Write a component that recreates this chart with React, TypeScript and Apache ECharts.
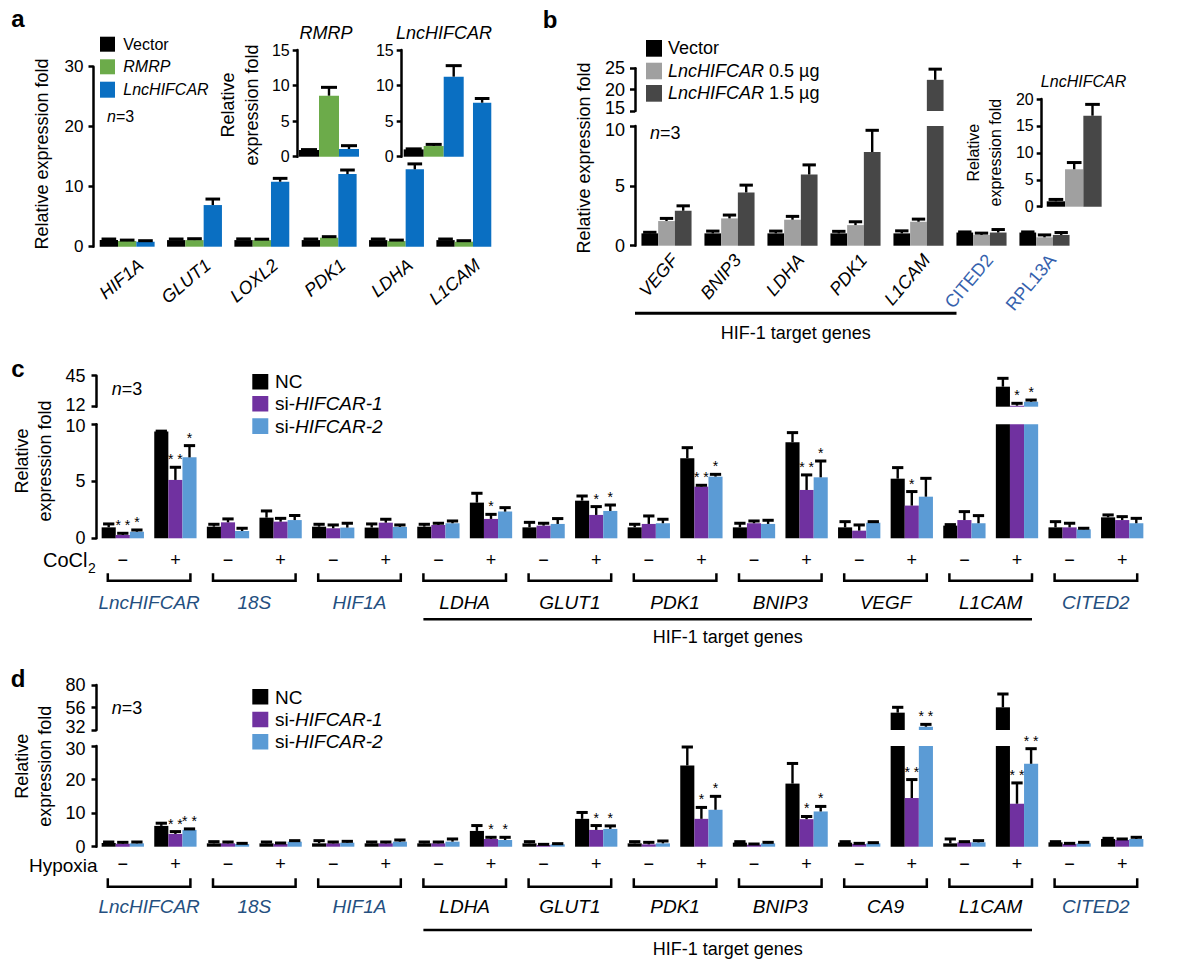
import React, { useEffect, useRef } from 'react';
import * as echarts from 'echarts';

const FF = '"Liberation Sans", Arial, Helvetica, sans-serif';

// ---------------- Panel a ----------------
const aGenes = ['HIF1A', 'GLUT1', 'LOXL2', 'PDK1', 'LDHA', 'L1CAM'];
const aVector = [1.1, 1.1, 1.1, 1.1, 1.1, 1.1];
const aVectorErr = [1.28, 1.28, 1.3, 1.28, 1.28, 1.28];
const aRmrp = [0.94, 1.1, 1.1, 1.5, 0.94, 0.83];
const aRmrpErr = [1.1, 1.33, 1.25, 1.67, 1.1, 1.0];
const aLnc = [0.83, 6.94, 10.83, 12.1, 12.9, 24.0];
const aLncErr = [1.0, 7.94, 11.39, 12.78, 13.8, 24.7];
const aInsetRmrp = [0.94, 8.58, 1.08];
const aInsetRmrpErr = [1.0, 9.75, 1.55];
const aInsetLnc = [1.03, 1.5, 11.25];
const aInsetLncErr = [1.1, 1.73, 12.8];

// ---------------- Panel b ----------------
const bGenes = ['VEGF', 'BNIP3', 'LDHA', 'PDK1', 'L1CAM', 'CITED2', 'RPL13A'];
const bControlGenes = ['CITED2', 'RPL13A'];
const bVector = [1.03, 1.03, 1.03, 1.03, 1.03, 1.1, 1.1];
const bVectorErr = [1.12, 1.22, 1.22, 1.2, 1.24, 1.15, 1.15];
const bLow = [2.06, 2.28, 2.17, 1.72, 2.0, 0.9, 0.7];
const bLowErr = [2.28, 2.56, 2.45, 2.0, 2.22, 1.05, 0.9];
const bHigh = [2.92, 4.45, 5.95, 7.83, 22.3, 1.1, 0.9];
const bHighErr = [3.33, 5.06, 6.75, 9.64, 24.8, 1.35, 1.1];
const bInset = [1.0, 6.95, 16.9];
const bInsetErr = [1.35, 8.2, 19.0];
const bLowerMax = 10;
const bUpperTicks = [15, 20, 25];

// ---------------- Panel c (CoCl2) ----------------
const cGenes = ['LncHIFCAR', '18S', 'HIF1A', 'LDHA', 'GLUT1', 'PDK1', 'BNIP3', 'VEGF', 'L1CAM', 'CITED2'];
const cControlGenes = ['LncHIFCAR', '18S', 'HIF1A', 'CITED2'];
// order per gene: [-, +]
const cNC = [0.96, 9.36, 1.02, 1.81, 1.02, 0.94, 1.02, 3.13, 0.96, 3.3, 0.96, 7.02, 0.96, 8.42, 0.96, 5.23, 1.11, 33.3, 0.96, 1.84];
const cNCErr = [1.26, 9.4, 1.23, 2.4, 1.23, 1.26, 1.23, 3.95, 1.4, 3.71, 1.23, 7.95, 1.32, 9.27, 1.46, 6.2, 1.2, 42.2, 1.46, 2.05];
const cSi1 = [0.29, 5.12, 1.4, 1.46, 0.88, 1.37, 1.17, 1.7, 1.11, 2.05, 1.26, 4.53, 1.32, 4.24, 0.67, 2.87, 1.6, 13.1, 0.96, 1.6];
const cSi1Err = [0.44, 6.23, 1.7, 1.75, 1.17, 1.67, 1.32, 2.1, 1.32, 2.78, 1.96, 4.65, 1.52, 5.56, 1.17, 4.1, 2.34, 15.6, 1.32, 1.9];
const cSi2 = [0.58, 7.1, 0.64, 1.6, 0.94, 1.0, 1.32, 2.34, 1.26, 2.4, 1.32, 5.41, 1.26, 5.35, 1.37, 3.65, 1.32, 17.3, 0.79, 1.32];
const cSi2Err = [0.73, 8.13, 0.88, 2.0, 1.32, 1.17, 1.52, 2.69, 1.73, 2.92, 1.67, 5.61, 1.58, 6.78, 1.46, 5.26, 1.99, 19.1, 0.88, 1.75];
const cSig1 = ['**', '**', '', '', '', '', '', '*', '', '*', '', '**', '', '**', '', '*', '', '*', '', ''];
const cSig2 = ['*', '*', '', '', '', '', '', '', '', '*', '', '*', '', '*', '', '', '', '*', '', ''];
const cLowerMax = 10;
const cUpperTicks = [12, 45];

// ---------------- Panel d (Hypoxia) ----------------
const dGenes = ['LncHIFCAR', '18S', 'HIF1A', 'LDHA', 'GLUT1', 'PDK1', 'BNIP3', 'CA9', 'L1CAM', 'CITED2'];
const dControlGenes = ['LncHIFCAR', '18S', 'HIF1A', 'CITED2'];
const dNC = [1.1, 6.2, 1.0, 1.0, 1.0, 1.0, 1.0, 4.7, 1.0, 8.3, 1.0, 24.2, 1.2, 18.8, 1.2, 50.5, 1.0, 56.2, 1.3, 2.3];
const dNCErr = [1.4, 7.0, 1.5, 1.4, 1.8, 1.4, 1.4, 6.3, 1.5, 10.2, 1.5, 29.7, 1.5, 24.8, 1.5, 56.2, 2.3, 70.4, 1.5, 2.5];
const dSi1 = [0.9, 3.8, 1.0, 0.8, 1.0, 1.0, 1.0, 2.3, 0.5, 5.0, 0.7, 8.3, 0.6, 8.2, 0.8, 14.5, 1.3, 12.8, 0.8, 2.0];
const dSi1Err = [1.3, 4.5, 1.4, 1.1, 1.4, 1.4, 1.4, 2.8, 0.7, 6.3, 1.3, 11.7, 0.8, 9.0, 1.0, 20.0, 1.5, 19.0, 1.0, 2.3];
const dSi2 = [1.0, 5.0, 0.8, 1.5, 1.2, 1.5, 1.5, 2.0, 0.7, 5.3, 1.0, 11.0, 1.0, 10.5, 1.0, 35.5, 1.3, 24.7, 1.0, 2.3];
const dSi2Err = [1.4, 5.3, 1.0, 1.8, 1.6, 2.0, 2.3, 2.8, 0.9, 6.2, 1.7, 15.0, 1.3, 12.0, 1.2, 38.0, 1.8, 29.2, 1.3, 2.8];
const dSig1 = ['', '**', '', '', '', '', '', '*', '', '*', '', '*', '', '*', '', '**', '', '**', '', ''];
const dSig2 = ['', '**', '', '', '', '', '', '*', '', '*', '', '*', '', '*', '', '**', '', '**', '', ''];
const dLowerMax = 30;
const dUpperTicks = [32, 56, 80];

const signs = ['\u2212', '+'];

// ---------------- colours ----------------
const BLACK = '#000000';
const GREEN = '#6cab4a';
const BLUE = '#0a6fc2';
const LGRAY = '#a0a0a0';
const DGRAY = '#474747';
const PURPLE = '#7031a0';
const SKY = '#5b9bd5';
const GENE_CD = '#244f80';
const GENE_B = '#3561ad';

const keys = (genes: string[]) => genes.flatMap((g) => signs.map((s) => g + '|' + s));

function barS(xi: number, yi: number, data: any[], color: string, bw: number) {
  return {
    type: 'bar', xAxisIndex: xi, yAxisIndex: yi, data, barWidth: bw, barGap: '0%',
    itemStyle: { color }, clip: true, silent: true, z: 2,
  };
}

function errS(xi: number, yi: number, vals: number[], errs: number[], sigs: string[] | null,
  k: number, bw: number, lo: number, hi: number) {
  return {
    type: 'custom', xAxisIndex: xi, yAxisIndex: yi, z: 5, silent: true,
    data: vals.map((v, i) => [i, v, errs[i]]),
    encode: { x: 0, y: 1 },
    renderItem: (params: any, api: any) => {
      const i = api.value(0), v = api.value(1), e = api.value(2);
      if (!(v > lo && v <= hi)) return null;
      const p0 = api.coord([i, v]);
      const p1 = api.coord([i, e]);
      const x = p0[0] + (k - 1) * bw;
      const half = bw * 0.4;
      const ch: any[] = [];
      if (e > v + 1e-9) {
        ch.push({ type: 'line', shape: { x1: x, y1: p0[1], x2: x, y2: p1[1] }, style: { stroke: '#000', lineWidth: 2.4 } });
        ch.push({ type: 'line', shape: { x1: x - half, y1: p1[1], x2: x + half, y2: p1[1] }, style: { stroke: '#000', lineWidth: 3 } });
      }
      const s = sigs ? sigs[params.dataIndex] : '';
      if (s) {
        ch.push({ type: 'text', x, y: p1[1] - 1, style: { text: s.split('').join(' '), align: 'center', verticalAlign: 'bottom', fontSize: 14, fontFamily: FF, fill: '#000' } });
      }
      return { type: 'group', children: ch };
    },
  };
}

// tick label formatter that nudges one label (at a broken-axis gap) up or down a little
function nudged(size: number, target: number, dir: 'up' | 'down', gap: number) {
  return {
    formatter: (v: number) => {
      if (v !== target) return '{v|' + v + '}';
      return dir === 'up' ? '{v|' + v + '}\n{g| }' : '{g| }\n{v|' + v + '}';
    },
    rich: {
      v: { fontSize: size, fontFamily: FF, color: '#000', lineHeight: 16 },
      g: { fontSize: 4, lineHeight: gap },
    },
  };
}

function yAx(grid: number, min: number, max: number, size: number, margin: number, extra: any = {}) {
  return {
    type: 'value', gridIndex: grid, min, max,
    axisLine: { show: true, lineStyle: { color: '#000', width: 2.5 } },
    axisTick: { show: true, length: 5, lineStyle: { color: '#000', width: 2.5 }, ...(extra.tick || {}) },
    axisLabel: { color: '#000', fontSize: size, fontFamily: FF, margin, ...(extra.label || {}) },
    splitLine: { show: false },
    ...(extra.axis || {}),
  };
}

const hiddenX = (grid: number, data: any[]) => ({ type: 'category', gridIndex: grid, data, show: false });
const hiddenY = (grid: number) => ({ type: 'value', gridIndex: grid, min: 0, max: 1, show: false });

function buildOption() {
  const grids = [
    { left: 93.5, top: 66.7, width: 404, height: 180 },
    { left: 297.7, top: 50, width: 62.6, height: 106.7 },
    { left: 401.7, top: 50, width: 64, height: 106.7 },
    { left: 635, top: 126, width: 441, height: 119.7 },
    { left: 635, top: 68.3, width: 441, height: 42.7 },
    { left: 1041.7, top: 99, width: 65, height: 107.7 },
    { left: 96.5, top: 424.3, width: 1052, height: 114 },
    { left: 96.5, top: 375.7, width: 1052, height: 31 },
    { left: 96.5, top: 746, width: 1052, height: 100.7 },
    { left: 96.5, top: 685, width: 1052, height: 45 },
    // label-only grids (slightly shifted so the slanted names sit like the original)
    { left: 101.5, top: 66.7, width: 404, height: 180 },
    { left: 643, top: 126, width: 441, height: 119.7 },
  ].map((g) => ({ ...g, containLabel: false, outerBoundsMode: 'none', show: false }));

  const cKeys = keys(cGenes);
  const dKeys = keys(dGenes);
  const signLabel = (m: number) => ({
    show: true, interval: 0, fontSize: 18, fontFamily: FF, color: '#000', margin: m,
    formatter: (v: string) => v.split('|')[1],
  });
  const geneAxis = (grid: number, genes: string[], ctrl: string[], off: number) => ({
    type: 'category', gridIndex: grid, position: 'bottom', offset: off,
    data: genes.map((g) => ({ value: g, textStyle: { color: ctrl.includes(g) ? GENE_CD : '#000' } })),
    axisLine: { show: false }, axisTick: { show: false }, splitLine: { show: false },
    axisLabel: { interval: 0, fontSize: 19, fontFamily: FF, fontStyle: 'italic', margin: 0, color: '#000' },
  });

  const xAxis: any[] = [
    hiddenX(0, aGenes),
    hiddenX(1, ['RMRP']),
    hiddenX(2, ['LncHIFCAR']),
    hiddenX(3, bGenes),
    hiddenX(4, bGenes),
    hiddenX(5, ['LncHIFCAR']),
    { type: 'category', gridIndex: 6, data: cKeys, axisLine: { show: false }, axisTick: { show: false }, axisLabel: signLabel(12.5) },
    geneAxis(6, cGenes, cControlGenes, 54.4),
    hiddenX(7, cKeys),
    { type: 'category', gridIndex: 8, data: dKeys, axisLine: { show: false }, axisTick: { show: false }, axisLabel: signLabel(8.3) },
    geneAxis(8, dGenes, dControlGenes, 50.3),
    hiddenX(9, dKeys),
    {
      type: 'category', gridIndex: 10, data: aGenes,
      axisLine: { show: false }, axisTick: { show: false },
      axisLabel: { interval: 0, rotate: 40, fontSize: 18, fontStyle: 'italic', fontFamily: FF, color: '#000', margin: 9, align: 'right', verticalAlign: 'top' },
    },
    {
      type: 'category', gridIndex: 11,
      data: bGenes.map((g) => ({ value: g, textStyle: bControlGenes.includes(g) ? { color: GENE_B, fontStyle: 'normal' } : { color: '#000', fontStyle: 'italic' } })),
      axisLine: { show: false }, axisTick: { show: false },
      axisLabel: { interval: 0, rotate: 50, fontSize: 18, fontFamily: FF, color: '#000', margin: 11, align: 'right', verticalAlign: 'top' },
    },
  ];

  const yAxis: any[] = [
    yAx(0, 0, 30, 17, 10, { axis: { interval: 10 } }),
    yAx(1, 0, 15, 16, 8, { axis: { interval: 5 } }),
    yAx(2, 0, 15, 16, 8, { axis: { interval: 5 } }),
    yAx(3, 0, bLowerMax, 18, 10, { axis: { interval: 5 }, label: nudged(18, bLowerMax, 'down', 7) }),
    yAx(4, bUpperTicks[0], bUpperTicks[bUpperTicks.length - 1], 18, 10, { axis: { interval: 5, startValue: bUpperTicks[0] }, label: nudged(18, bUpperTicks[0], 'up', 7) }),
    yAx(5, 0, 20, 16, 8, { axis: { interval: 5 } }),
    yAx(6, 0, cLowerMax, 18, 11, { axis: { interval: 5 }, label: nudged(18, cLowerMax, 'down', 4) }),
    yAx(7, cUpperTicks[0], cUpperTicks[1], 18, 11, { tick: { customValues: cUpperTicks }, label: { customValues: cUpperTicks, ...nudged(18, cUpperTicks[0], 'up', 4) }, axis: { startValue: cUpperTicks[0] } }),
    yAx(8, 0, dLowerMax, 18, 11, { axis: { interval: 10 }, label: nudged(18, dLowerMax, 'down', 6) }),
    yAx(9, dUpperTicks[0], dUpperTicks[2], 18, 11, { tick: { customValues: dUpperTicks }, label: { customValues: dUpperTicks, ...nudged(18, dUpperTicks[0], 'up', 6) }, axis: { startValue: dUpperTicks[0] } }),
    hiddenY(10),
    hiddenY(11),
  ];

  const series: any[] = [];
  const INF = Number.POSITIVE_INFINITY;
  // a main
  const aBw = 18.3;
  [[aVector, aVectorErr, BLACK], [aRmrp, aRmrpErr, GREEN], [aLnc, aLncErr, BLUE]].forEach(([v, e, c]: any, k) => {
    series.push(barS(0, 0, v, c, aBw));
    series.push(errS(0, 0, v, e, null, k, aBw, -INF, INF));
  });
  // a insets
  const aiBw = 20;
  const aCols = [BLACK, GREEN, BLUE];
  [[aInsetRmrp, aInsetRmrpErr, 1], [aInsetLnc, aInsetLncErr, 2]].forEach(([v, e, gi]: any) => {
    aCols.forEach((c, k) => {
      series.push(barS(gi, gi, [v[k]], c, aiBw));
      series.push(errS(gi, gi, [v[k]], [e[k]], null, k, aiBw, -INF, INF));
    });
  });
  // b
  const bBw = 16.7;
  [[bVector, bVectorErr, BLACK], [bLow, bLowErr, LGRAY], [bHigh, bHighErr, DGRAY]].forEach(([v, e, c]: any, k) => {
    series.push(barS(3, 3, v, c, bBw));
    series.push(barS(4, 4, v.map((x: number) => (x > bUpperTicks[0] ? x : '-')), c, bBw));
    series.push(errS(3, 3, v, e, null, k, bBw, -INF, bLowerMax));
    series.push(errS(4, 4, v, e, null, k, bBw, bUpperTicks[0], INF));
  });
  const biBw = 18.3;
  [BLACK, LGRAY, DGRAY].forEach((c, k) => {
    series.push(barS(5, 5, [bInset[k]], c, biBw));
    series.push(errS(5, 5, [bInset[k]], [bInsetErr[k]], null, k, biBw, -INF, INF));
  });
  // c and d
  const cdBw = 14.1;
  const cd = [
    { xl: 6, xu: 8, yl: 6, yu: 7, lowMax: cLowerMax, upMin: cUpperTicks[0], sets: [[cNC, cNCErr, null, BLACK], [cSi1, cSi1Err, cSig1, PURPLE], [cSi2, cSi2Err, cSig2, SKY]] },
    { xl: 9, xu: 11, yl: 8, yu: 9, lowMax: dLowerMax, upMin: dUpperTicks[0], sets: [[dNC, dNCErr, null, BLACK], [dSi1, dSi1Err, dSig1, PURPLE], [dSi2, dSi2Err, dSig2, SKY]] },
  ];
  cd.forEach((p: any) => {
    p.sets.forEach(([v, e, s, c]: any, k: number) => {
      series.push(barS(p.xl, p.yl, v, c, cdBw));
      series.push(barS(p.xu, p.yu, v.map((x: number) => (x > p.upMin ? x : '-')), c, cdBw));
      series.push(errS(p.xl, p.yl, v, e, s, k, cdBw, -INF, p.lowMax));
      series.push(errS(p.xu, p.yu, v, e, s, k, cdBw, p.upMin, INF));
    });
  });

  return {
    animation: false,
    backgroundColor: '#ffffff',
    textStyle: { fontFamily: FF },
    grid: grids,
    xAxis,
    yAxis,
    series,
  };
}

function T(text: string, x: number, y: number, o: any = {}) {
  const size = o.size || 18;
  const rich = o.rich
    ? { i: { fontStyle: 'italic', fontSize: size, fontFamily: FF, fill: '#000' } }
    : undefined;
  return {
    type: 'text', x, y, rotation: o.rot || 0, silent: true, z: 20,
    style: {
      text, fontSize: size, fontFamily: FF, fill: o.color || '#000',
      fontStyle: o.italic ? 'italic' : 'normal', fontWeight: o.bold ? 'bold' : 'normal',
      align: o.align || 'left', verticalAlign: o.va || 'middle',
      lineHeight: o.lh, rich,
    },
  };
}
const R = (x: number, y: number, w: number, h: number, fill: string) => ({ type: 'rect', shape: { x, y, width: w, height: h }, style: { fill }, silent: true, z: 20 });
const L = (x1: number, y1: number, x2: number, y2: number, w = 2.5) => ({ type: 'line', shape: { x1, y1, x2, y2 }, style: { stroke: '#000', lineWidth: w }, silent: true, z: 20 });
const BR = (x1: number, x2: number, yt: number, yb: number) => ({
  type: 'polyline', shape: { points: [[x1, yt], [x1, yb], [x2, yb], [x2, yt]] },
  style: { stroke: '#000', lineWidth: 2.5, fill: null }, silent: true, z: 20,
});

function buildGraphics(chart: any) {
  const g: any[] = [];
  const px = (ax: number, i: number) => chart.convertToPixel({ xAxisIndex: ax }, i) as number;
  const V = Math.PI / 2;

  // ---- a ----
  g.push(T('a', 18, 18, { size: 24, bold: true, align: 'center' }));
  g.push(R(100, 36.7, 15, 15, BLACK), R(100, 59.3, 15, 15, GREEN), R(100, 81.7, 15, 16, BLUE));
  g.push(T('Vector', 123.3, 44.2, { size: 16 }));
  g.push(T('RMRP', 123.3, 66.7, { size: 16, italic: true }));
  g.push(T('LncHIFCAR', 123.3, 89.7, { size: 16, italic: true }));
  g.push(T('{i|n}=3', 107, 116.7, { size: 16, rich: true }));
  g.push(T('Relative expression fold', 41.7, 154, { rot: V, align: 'center' }));
  g.push(T('RMRP', 326, 32.7, { italic: true, align: 'center' }));
  g.push(T('LncHIFCAR', 444, 32.7, { italic: true, align: 'center' }));
  g.push(T('Relative\nexpression fold', 240, 105, { rot: V, align: 'center', lh: 23.7 }));

  // ---- b ----
  g.push(T('b', 550, 19, { size: 24, bold: true, align: 'center' }));
  g.push(R(646, 40, 16, 16.7, BLACK), R(646, 62.7, 16, 16.6, LGRAY), R(646, 85, 16, 16.7, DGRAY));
  g.push(T('Vector', 668, 48.3));
  g.push(T('{i|LncHIFCAR} 0.5 \u00b5g', 668, 71, { rich: true }));
  g.push(T('{i|LncHIFCAR} 1.5 \u00b5g', 668, 93.3, { rich: true }));
  g.push(T('{i|n}=3', 650, 133, { rich: true }));
  g.push(T('Relative expression fold', 583.5, 158, { rot: V, align: 'center' }));
  g.push(T('LncHIFCAR', 1083.5, 81.7, { size: 16, italic: true, align: 'center' }));
  g.push(T('Relative\nexpression fold', 984.5, 152.7, { size: 16, rot: V, align: 'center', lh: 22.7 }));
  const bx1 = px(3, 0) - 31.5;
  const bx2 = px(3, bGenes.indexOf('CITED2')) - 25;
  g.push(L(bx1, 313.3, bx2, 313.3, 3));
  g.push(T('HIF-1 target genes', (bx1 + bx2) / 2, 333, { align: 'center' }));

  // ---- c & d ----
  const cdPanels = [
    { letter: 'c', ly: 368, ax: 6, genes: cGenes, legY: [374, 396, 418.3], legT: [381.7, 403.7, 426], nY: 389, titleY: 461, bt: 573.3, bb: 580.7, uy: 619.3, ty: 636.7, first: 'LDHA', last: 'L1CAM' },
    { letter: 'd', ly: 678, ax: 9, genes: dGenes, legY: [689, 711.7, 734], legT: [697, 719.5, 741.7], nY: 708.3, titleY: 766.3, bt: 878.3, bb: 886.7, uy: 930, ty: 949.3, first: 'LDHA', last: 'L1CAM' },
  ];
  cdPanels.forEach((p) => {
    g.push(T(p.letter, 18, p.ly, { size: 24, bold: true, align: 'center' }));
    g.push(R(252.3, p.legY[0], 16, 15.6, BLACK), R(252.3, p.legY[1], 16, 15.6, PURPLE), R(252.3, p.legY[2], 16, 15.6, SKY));
    g.push(T('NC', 275, p.legT[0], { size: 19 }));
    g.push(T('si-{i|HIFCAR-1}', 275, p.legT[1], { rich: true, size: 19 }));
    g.push(T('si-{i|HIFCAR-2}', 275, p.legT[2], { rich: true, size: 19 }));
    g.push(T('{i|n}=3', 111.7, p.nY, { rich: true }));
    g.push(T('Relative\nexpression fold', 33.3, p.titleY, { rot: V, align: 'center', lh: 23.3 }));
    p.genes.forEach((_, gi) => {
      g.push(BR(px(p.ax, 2 * gi) - 15, px(p.ax, 2 * gi + 1) + 15, p.bt, p.bb));
    });
    const ux1 = px(p.ax, 2 * p.genes.indexOf(p.first)) - 15;
    const ux2 = px(p.ax, 2 * p.genes.indexOf(p.last) + 1) + 15;
    g.push(L(ux1, p.uy, ux2, p.uy, 2.6));
    g.push(T('HIF-1 target genes', (ux1 + ux2) / 2, p.ty, { align: 'center' }));
  });
  g.push(T('CoCl', 43, 560, { size: 20, lh: 16 }));
  g.push(T('2', 88, 568, { size: 14, lh: 12 }));
  g.push(T('Hypoxia', 29, 865, { size: 19, lh: 15 }));
  return g;
}

export default function App() {
  const ref = useRef<HTMLDivElement>(null);
  useEffect(() => {
    const chart = echarts.init(ref.current as HTMLDivElement, null, { renderer: 'svg' });
    chart.setOption(buildOption() as any);
    chart.setOption({ graphic: buildGraphics(chart) } as any);
    return () => chart.dispose();
  }, []);
  return (
    <div
      ref={ref}
      style={{ position: 'absolute', left: 0, top: 0, width: 1182, height: 962, background: '#fff' }}
    />
  );
}
